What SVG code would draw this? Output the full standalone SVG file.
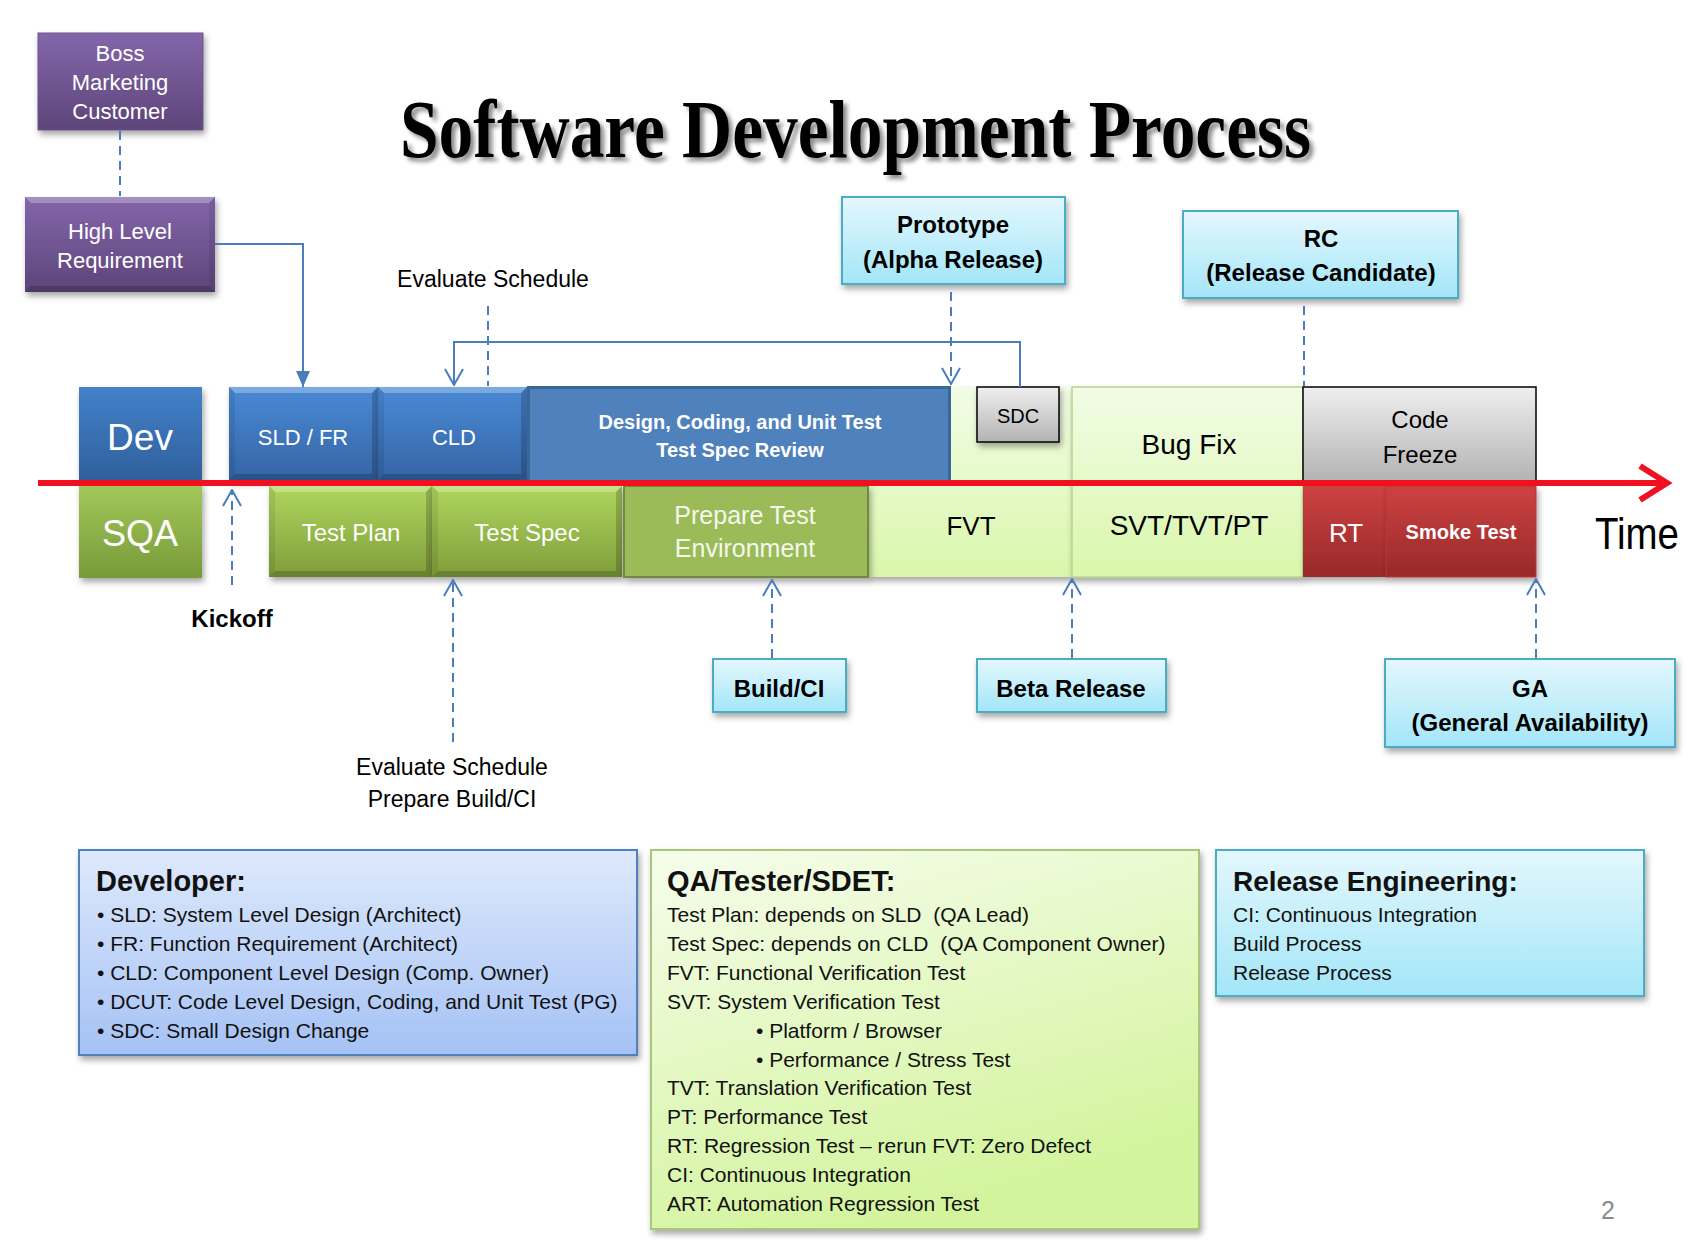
<svg xmlns="http://www.w3.org/2000/svg" width="1696" height="1250" viewBox="0 0 1696 1250">
<style>
text{font-family:"Liberation Sans",Arial,sans-serif;}
.c{text-anchor:middle;}
.w{fill:#ffffff;}
.k{fill:#000000;}
.b{font-weight:bold;}
.con{fill:none;stroke:#4a7ebb;stroke-width:2;}
.dash{stroke-dasharray:9 6;}
.cyan{fill:url(#gCyan);stroke:#4bacc6;stroke-width:2;filter:url(#sh);}
.hl{fill:#ffffff;fill-opacity:0.28;}
.dk{fill:#000000;fill-opacity:0.18;}
.dk2{fill:#000000;fill-opacity:0.08;}
.body{font-size:21px;fill:#111111;}
.head{font-size:29px;font-weight:bold;fill:#111111;}
</style>
<defs>
<filter id="sh" x="-10%" y="-10%" width="130%" height="140%">
<feDropShadow dx="2" dy="4" stdDeviation="3" flood-color="#000" flood-opacity="0.35"/>
</filter>
<filter id="tsh" x="-5%" y="-20%" width="110%" height="150%">
<feDropShadow dx="4" dy="4" stdDeviation="2" flood-color="#000" flood-opacity="0.45"/>
</filter>
<linearGradient id="gPurple" x1="0" y1="0" x2="0" y2="1"><stop offset="0" stop-color="#8466ab"/><stop offset="1" stop-color="#5d4579"/></linearGradient>
<linearGradient id="gDev" x1="0" y1="0" x2="0" y2="1"><stop offset="0" stop-color="#4381ca"/><stop offset="1" stop-color="#2f5f9b"/></linearGradient>
<linearGradient id="gBlueB" x1="0" y1="0" x2="0" y2="1"><stop offset="0" stop-color="#4a8ad6"/><stop offset="1" stop-color="#3464a5"/></linearGradient>
<linearGradient id="gSQA" x1="0" y1="0" x2="0" y2="1"><stop offset="0" stop-color="#a3c85a"/><stop offset="1" stop-color="#789a3a"/></linearGradient>
<linearGradient id="gGreenB" x1="0" y1="0" x2="0" y2="1"><stop offset="0" stop-color="#afd65e"/><stop offset="1" stop-color="#7f9d3b"/></linearGradient>
<linearGradient id="gLight" x1="0" y1="0" x2="0" y2="1"><stop offset="0" stop-color="#f2fce6"/><stop offset="1" stop-color="#d9f7ab"/></linearGradient>
<linearGradient id="gGray" x1="0" y1="0" x2="0" y2="1"><stop offset="0" stop-color="#efefef"/><stop offset="1" stop-color="#b3b3b3"/></linearGradient>
<linearGradient id="gRed" x1="0" y1="0" x2="0" y2="1"><stop offset="0" stop-color="#ce4242"/><stop offset="1" stop-color="#982929"/></linearGradient>
<linearGradient id="gCyan" x1="0" y1="0" x2="0" y2="1"><stop offset="0" stop-color="#e4f7fd"/><stop offset="1" stop-color="#a3e6f8"/></linearGradient>
<linearGradient id="gDevBox" x1="0" y1="0" x2="0" y2="1"><stop offset="0" stop-color="#dee9fc"/><stop offset="1" stop-color="#a5c2f5"/></linearGradient>
<linearGradient id="gQABox" x1="0" y1="0" x2="0.4" y2="1"><stop offset="0" stop-color="#f6fdec"/><stop offset="1" stop-color="#d3f49d"/></linearGradient>
<marker id="mOpen" viewBox="0 0 20 20" refX="19" refY="10" markerWidth="20" markerHeight="20" markerUnits="userSpaceOnUse" orient="auto">
<path d="M3,1 L19,10 L3,19" fill="none" stroke="#4a7ebb" stroke-width="2"/>
</marker>
<marker id="mFill" viewBox="0 0 16 20" refX="16" refY="10" markerWidth="16" markerHeight="20" markerUnits="userSpaceOnUse" orient="auto">
<path d="M0,3 L16,10 L0,17 Z" fill="#4a7ebb"/>
</marker>
</defs>
<rect x="0" y="0" width="1696" height="1250" fill="#ffffff"/>

<g id="title">
<text x="400" y="157" textLength="911" lengthAdjust="spacingAndGlyphs" style="font-family:'Liberation Serif','Times New Roman',serif;font-size:82px;font-weight:bold;" fill="#000" filter="url(#tsh)">Software Development Process</text>
</g>

<g id="boss">
<rect x="38" y="33" width="165" height="97" fill="url(#gPurple)" stroke="#6b548c" stroke-width="1" filter="url(#sh)"/>
<text class="c w" x="120" y="61" font-size="22">Boss</text>
<text class="c w" x="120" y="90" font-size="22">Marketing</text>
<text class="c w" x="120" y="119" font-size="22">Customer</text>
</g>

<g id="hlr">
<rect x="25" y="197" width="190" height="95" fill="url(#gPurple)" filter="url(#sh)"/>
<polygon class="hl" points="25,197 215,197 209,203 31,203"/>
<polygon class="dk" points="25,292 215,292 209,286 31,286"/>
<polygon class="dk2" points="215,197 209,203 209,286 215,292"/>
<text class="c w" x="120" y="239" font-size="22">High Level</text>
<text class="c w" x="120" y="268" font-size="22">Requirement</text>
</g>

<g id="eval-top"><text class="c k" x="493" y="287" font-size="23">Evaluate Schedule</text></g>

<g id="prototype">
<rect class="cyan" x="842" y="197" width="223" height="87"/>
<text class="c k b" x="953" y="233" font-size="24">Prototype</text>
<text class="c k b" x="953" y="268" font-size="24">(Alpha Release)</text>
</g>

<g id="rc">
<rect class="cyan" x="1183" y="211" width="275" height="87"/>
<text class="c k b" x="1321" y="247" font-size="24">RC</text>
<text class="c k b" x="1321" y="281" font-size="24">(Release Candidate)</text>
</g>

<g id="dev">
<rect x="79" y="387" width="123" height="95" fill="url(#gDev)" filter="url(#sh)"/>
<text class="c w" x="140" y="450" font-size="37">Dev</text>
</g>

<g id="sqa">
<rect x="79" y="485" width="123" height="93" fill="url(#gSQA)" filter="url(#sh)"/>
<text class="c w" x="140" y="546" font-size="36">SQA</text>
</g>

<g id="fvt">
<rect x="868" y="387" width="204" height="190" fill="url(#gLight)" filter="url(#sh)"/>
<text class="c k" x="971" y="535" font-size="26">FVT</text>
</g>

<g id="bugfix">
<rect x="1072" y="387" width="231" height="190" fill="url(#gLight)" stroke="#b4d68a" stroke-width="1.5" filter="url(#sh)"/>
<text class="c k" x="1189" y="454" font-size="28">Bug Fix</text>
<text class="c k" x="1189" y="535" font-size="28">SVT/TVT/PT</text>
</g>

<g id="sld">
<rect x="229" y="387" width="149" height="93" fill="url(#gBlueB)" filter="url(#sh)"/>
<polygon class="hl" points="229,387 378,387 372,393 235,393"/>
<polygon class="dk" points="229,480 378,480 372,474 235,474"/>
<polygon class="dk2" points="229,387 235,393 235,474 229,480"/>
<polygon class="dk" points="378,387 372,393 372,474 378,480"/>
<text class="c w" x="303" y="445" font-size="22">SLD / FR</text>
</g>

<g id="cld">
<rect x="378" y="387" width="149" height="93" fill="url(#gBlueB)" filter="url(#sh)"/>
<polygon class="hl" points="378,387 527,387 521,393 384,393"/>
<polygon class="dk" points="378,480 527,480 521,474 384,474"/>
<polygon class="dk2" points="378,387 384,393 384,474 378,480"/>
<polygon class="dk" points="527,387 521,393 521,474 527,480"/>
<text class="c w" x="454" y="445" font-size="22">CLD</text>
</g>

<g id="dcut">
<rect x="528.5" y="387.5" width="421" height="94" fill="#4f81bd" stroke="#3b6698" stroke-width="3"/>
<text class="c w b" x="740" y="429" font-size="20">Design, Coding, and Unit Test</text>
<text class="c w b" x="740" y="457" font-size="20">Test Spec Review</text>
</g>

<g id="sdc">
<rect x="977" y="387" width="82" height="55" fill="url(#gGray)" stroke="#000" stroke-width="1.5" filter="url(#sh)"/>
<text class="c k" x="1018" y="423" font-size="20">SDC</text>
</g>

<g id="codefreeze">
<rect x="1303" y="387" width="233" height="94" fill="url(#gGray)" stroke="#000" stroke-width="1.5"/>
<text class="c k" x="1420" y="428" font-size="24">Code</text>
<text class="c k" x="1420" y="463" font-size="24">Freeze</text>
</g>

<g id="testplan">
<rect x="269" y="486" width="163" height="91" fill="url(#gGreenB)" filter="url(#sh)"/>
<polygon class="hl" points="269,486 432,486 426,492 275,492"/>
<polygon class="dk" points="269,577 432,577 426,571 275,571"/>
<polygon class="dk2" points="269,486 275,492 275,571 269,577"/>
<polygon class="dk" points="432,486 426,492 426,571 432,577"/>
<text class="c w" x="351" y="541" font-size="24">Test Plan</text>
</g>

<g id="testspec">
<rect x="432" y="486" width="190" height="91" fill="url(#gGreenB)" filter="url(#sh)"/>
<polygon class="hl" points="432,486 622,486 616,492 438,492"/>
<polygon class="dk" points="432,577 622,577 616,571 438,571"/>
<polygon class="dk2" points="432,486 438,492 438,571 432,577"/>
<polygon class="dk" points="622,486 616,492 616,571 622,577"/>
<text class="c w" x="527" y="541" font-size="24">Test Spec</text>
</g>

<g id="preptest">
<rect x="624" y="486" width="244" height="91" fill="#9bbb59" stroke="#71893f" stroke-width="2" filter="url(#sh)"/>
<text class="c" x="745" y="524" font-size="25" fill="#f4f8ec">Prepare Test</text>
<text class="c" x="745" y="557" font-size="25" fill="#f4f8ec">Environment</text>
</g>

<g id="rt">
<rect x="1303" y="486" width="83" height="91" fill="url(#gRed)" filter="url(#sh)"/>
<text class="c w" x="1346" y="542" font-size="26">RT</text>
</g>

<g id="smoke">
<rect x="1386" y="486" width="150" height="91" fill="url(#gRed)" stroke="#b53a3a" stroke-width="1" filter="url(#sh)"/>
<text class="c w b" x="1461" y="539" font-size="20">Smoke Test</text>
</g>

<g id="timeline">
<line x1="38" y1="483" x2="1662" y2="483" stroke="#f01020" stroke-width="6"/>
<polyline points="1640,466 1667,483 1640,500" fill="none" stroke="#f01020" stroke-width="6"/>
<text x="1595" y="549" font-size="44" textLength="84" lengthAdjust="spacingAndGlyphs" fill="#000">Time</text>
</g>

<g id="kickoff"><text class="c k b" x="232" y="627" font-size="24">Kickoff</text></g>

<g id="eval-bottom">
<text class="c k" x="452" y="775" font-size="23">Evaluate Schedule</text>
<text class="c k" x="452" y="807" font-size="23">Prepare Build/CI</text>
</g>

<g id="buildci">
<rect class="cyan" x="713" y="659" width="133" height="53"/>
<text class="c k b" x="779" y="697" font-size="24">Build/CI</text>
</g>

<g id="beta">
<rect class="cyan" x="977" y="659" width="189" height="53"/>
<text class="c k b" x="1071" y="697" font-size="24">Beta Release</text>
</g>

<g id="ga">
<rect class="cyan" x="1385" y="659" width="290" height="88"/>
<text class="c k b" x="1530" y="697" font-size="24">GA</text>
<text class="c k b" x="1530" y="731" font-size="24">(General Availability)</text>
</g>

<g id="connectors">
<path class="con" d="M215,244 H303 V387" marker-end="url(#mFill)"/>
<path class="con" d="M1020,387 V342 H454 V385" marker-end="url(#mOpen)"/>
<path class="con dash" d="M120,131 V196"/>
<path class="con dash" d="M488,306 V386"/>
<path class="con dash" d="M951,292 V384" marker-end="url(#mOpen)"/>
<path class="con dash" d="M1304,306 V386"/>
<path class="con dash" d="M232,585 V490" marker-end="url(#mOpen)"/>
<path class="con dash" d="M453,742 V580" marker-end="url(#mOpen)"/>
<path class="con dash" d="M772,658 V580" marker-end="url(#mOpen)"/>
<path class="con dash" d="M1072,658 V579" marker-end="url(#mOpen)"/>
<path class="con dash" d="M1536,658 V579" marker-end="url(#mOpen)"/>
</g>

<g id="developer">
<rect x="79" y="850" width="558" height="205" fill="url(#gDevBox)" stroke="#4f81bd" stroke-width="2" filter="url(#sh)"/>
<text class="head" x="96" y="891">Developer:</text>
<text class="body" x="97" y="922">• SLD: System Level Design (Architect)</text>
<text class="body" x="97" y="951">• FR: Function Requirement (Architect)</text>
<text class="body" x="97" y="980">• CLD: Component Level Design (Comp. Owner)</text>
<text class="body" x="97" y="1009">• DCUT: Code Level Design, Coding, and Unit Test (PG)</text>
<text class="body" x="97" y="1038">• SDC: Small Design Change</text>
</g>

<g id="qa">
<rect x="651" y="850" width="548" height="379" fill="url(#gQABox)" stroke="#a9c77a" stroke-width="2" filter="url(#sh)"/>
<text class="head" x="667" y="891">QA/Tester/SDET:</text>
<text class="body" x="667" y="922" xml:space="preserve">Test Plan: depends on SLD  (QA Lead)</text>
<text class="body" x="667" y="951" xml:space="preserve">Test Spec: depends on CLD  (QA Component Owner)</text>
<text class="body" x="667" y="980">FVT: Functional Verification Test</text>
<text class="body" x="667" y="1009">SVT: System Verification Test</text>
<text class="body" x="756" y="1038">• Platform / Browser</text>
<text class="body" x="756" y="1067">• Performance / Stress Test</text>
<text class="body" x="667" y="1095">TVT: Translation Verification Test</text>
<text class="body" x="667" y="1124">PT: Performance Test</text>
<text class="body" x="667" y="1153">RT: Regression Test – rerun FVT: Zero Defect</text>
<text class="body" x="667" y="1182">CI: Continuous Integration</text>
<text class="body" x="667" y="1211">ART: Automation Regression Test</text>
</g>

<g id="releng">
<rect x="1216" y="850" width="428" height="146" fill="url(#gCyan)" stroke="#4bacc6" stroke-width="2" filter="url(#sh)"/>
<text class="head" x="1233" y="891" style="font-size:28px">Release Engineering:</text>
<text class="body" x="1233" y="922">CI: Continuous Integration</text>
<text class="body" x="1233" y="951">Build Process</text>
<text class="body" x="1233" y="980">Release Process</text>
</g>

<g id="page"><text x="1601" y="1219" font-size="25" fill="#8a8a8a">2</text></g>
</svg>
